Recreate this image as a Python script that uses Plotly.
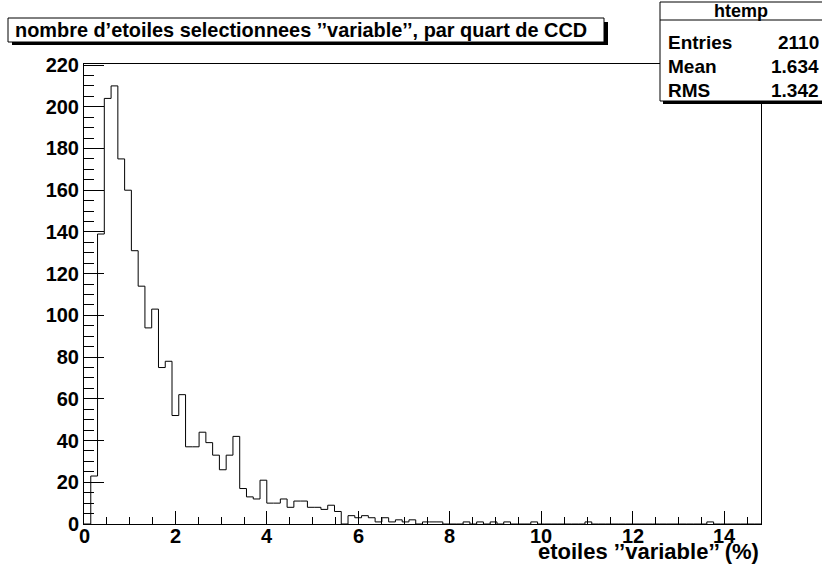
import numpy as np
import plotly.graph_objects as go

# ---- data -------------------------------------------------------------
title_text = "nombre d\u2019etoiles selectionnees \u2019\u2019variable\u2019\u2019, par quart de CCD"
x_title = "etoiles \u2019\u2019variable\u2019\u2019 (%)"
hist_name = "htemp"
stat_labels = ["Entries", "Mean", "RMS"]
stat_values = ["2110", "1.634", "1.342"]

x_min, x_max, n_bins = 0.0, 14.8, 100
counts = [0, 23, 139, 204, 210, 175, 160, 131, 114, 94,
          103, 75, 78, 52, 62, 37, 37, 44, 39, 33,
          26, 33, 42, 17, 13, 12, 21, 10, 10, 12,
          8, 11, 11, 8, 8, 7, 9, 6, 0, 4,
          3, 4, 3, 1, 3, 1, 2, 1, 2, 0,
          1, 1, 1, 0, 0, 0, 1, 0, 1, 0,
          1, 0, 1, 0, 0, 0, 1, 0, 0, 0,
          0, 0, 0, 0, 1, 0, 0, 0, 0, 0,
          0, 0, 0, 0, 0, 0, 0, 0, 0, 0,
          0, 0, 1, 0, 0, 0, 0, 0, 0, 0]
x_ticks = [0, 2, 4, 6, 8, 10, 12, 14]
x_tick_labels = [str(v) for v in x_ticks]
y_ticks = list(range(0, 221, 20))
y_tick_labels = [str(v) for v in y_ticks]

# ---- histogram outline --------------------------------------------------
edges = np.linspace(x_min, x_max, n_bins + 1)
xs = [edges[0]] + list(edges[:-1]) + [edges[-1], edges[-1]]
ys = [0] + list(counts) + [counts[-1], 0]
y_max = 1.05 * max(counts)

# ---- layout geometry (page pixels) ---------------------------------------
W_, H_ = 822, 574
L, R, T, B = 84, 761, 64, 524          # frame
PW, PH = R - L, B - T


def px(x):
    return (x - L) / PW


def py(y):
    return (B - y) / PH


FONT = "Liberation Sans, Arial, Helvetica, sans-serif"


def bold(size):
    return dict(family=FONT, size=size, color="black", weight="bold")


fig = go.Figure()
fig.add_trace(go.Scatter(x=xs, y=ys, mode="lines", line_shape="hv",
                         line=dict(color="black", width=1), hoverinfo="skip",
                         showlegend=False))

shapes = []
# title box with shadow
shapes.append(dict(type="rect", xref="paper", yref="paper",
                   x0=px(12), x1=px(608), y0=py(22), y1=py(45),
                   fillcolor="black", line=dict(width=0), layer="above"))
shapes.append(dict(type="rect", xref="paper", yref="paper",
                   x0=px(8), x1=px(604), y0=py(18), y1=py(42),
                   fillcolor="white", line=dict(color="black", width=1), layer="above"))
# stats box with shadow
shapes.append(dict(type="rect", xref="paper", yref="paper",
                   x0=px(663), x1=px(830), y0=py(5), y1=py(104),
                   fillcolor="black", line=dict(width=0), layer="above"))
shapes.append(dict(type="rect", xref="paper", yref="paper",
                   x0=px(660), x1=px(830), y0=py(2), y1=py(101),
                   fillcolor="white", line=dict(color="black", width=1), layer="above"))
shapes.append(dict(type="line", xref="paper", yref="paper",
                   x0=px(660), x1=px(830), y0=py(20), y1=py(20),
                   line=dict(color="black", width=1), layer="above"))

annotations = []
annotations.append(dict(text=title_text, xref="paper", yref="paper",
                        x=px(13), y=py(30), xanchor="left", yanchor="middle",
                        showarrow=False, font=bold(19.9)))
annotations.append(dict(text=hist_name, xref="paper", yref="paper",
                        x=px(741), y=py(11), xanchor="center", yanchor="middle",
                        showarrow=False, font=bold(18)))
row_y = [43, 67, 90]
for lab, val, yy in zip(stat_labels, stat_values, row_y):
    annotations.append(dict(text=lab, xref="paper", yref="paper",
                            x=px(666), y=py(yy), xanchor="left", yanchor="middle",
                            showarrow=False, font=bold(19)))
    annotations.append(dict(text=val, xref="paper", yref="paper",
                            x=px(821), y=py(yy), xanchor="right", yanchor="middle",
                            showarrow=False, font=bold(19)))
# x tick labels placed through the x scale
for v, t in zip(x_ticks, x_tick_labels):
    annotations.append(dict(text=t, xref="x", yref="paper", x=v, y=py(536),
                            xanchor="center", yanchor="middle", showarrow=False,
                            font=bold(20)))
annotations.append(dict(text=x_title, xref="paper", yref="paper",
                        x=1, y=py(551), xanchor="right", yanchor="middle",
                        showarrow=False, font=bold(22)))

fig.update_layout(
    width=W_, height=H_,
    margin=dict(l=L, r=W_ - R, t=T, b=H_ - B, pad=0),
    paper_bgcolor="white", plot_bgcolor="white",
    shapes=shapes, annotations=annotations,
    font=dict(family=FONT, color="black"),
    xaxis=dict(range=[x_min, x_max], tickvals=x_ticks, showticklabels=False,
               ticks="inside", ticklen=13, tickwidth=1, tickcolor="black",
               minor=dict(ticks="inside", ticklen=7, dtick=0.5, tick0=0, tickcolor="black", tickwidth=1),
               showline=True, linecolor="black", linewidth=1, mirror=True,
               showgrid=False, zeroline=False),
    yaxis=dict(range=[0, y_max], tickvals=y_ticks, ticktext=y_tick_labels,
               ticks="inside", ticklen=20, tickwidth=1, tickcolor="black",
               minor=dict(ticks="inside", ticklen=10, dtick=5, tick0=0, tickcolor="black", tickwidth=1),
               showline=True, linecolor="black", linewidth=1, mirror=True,
               showgrid=False, zeroline=False,
               tickfont=bold(20), ticklabelstandoff=0),
)

fig.write_html("out.html", config={"displayModeBar": False},
               post_script="document.body.style.margin='0';")
